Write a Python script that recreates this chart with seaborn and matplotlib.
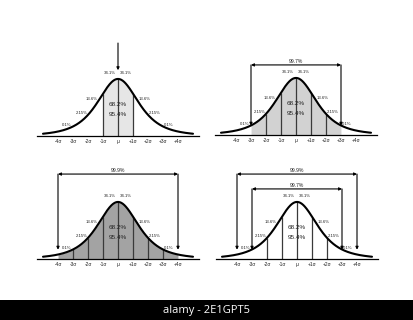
import numpy as np
import matplotlib
matplotlib.use("Agg")
import matplotlib.pyplot as plt
from matplotlib.patches import Rectangle
import seaborn as sns
import pandas as pd

sns.set_theme(style="white")
plt.rcParams['font.family'] = ['Liberation Sans', 'DejaVu Sans']

# ---- data ----
# bell curve as drawn in the illustration (peak height and width in sigma units)
bell_peak = 0.399
bell_width = 1.44
bell_tail = 3.0
sigma_ticks = [-4, -3, -2, -1, 0, 1, 2, 3, 4]
tick_labels = ["-4σ", "-3σ", "-2σ", "-1σ", "μ", "+1σ", "+2σ", "+3σ", "+4σ"]
band_labels = ["34.1%", "13.6%", "2.15%", "0.1%"]
band_label_x = [0.55, 1.75, 2.45, 3.4]
band_label_y = [0.44, 0.26, 0.16, 0.077]
center_labels = ["68.2%", "95.4%"]
center_label_y = [0.22, 0.147]
range_labels = ["99.7%", "99.9%"]
range_halfwidth = [3, 4]
range_level = [0.49, 0.594]

W, H = 413, 320
SIG_PX = 15.0
Y_PX = 143.0
XL = (-5.4, 5.4)
YL = (-0.12, 0.72)


def bell(x):
    x = np.asarray(x, dtype=float)
    return bell_peak * (1 + x ** 2 / (bell_tail * bell_width ** 2)) ** (-(bell_tail + 1) / 2)


xs = np.linspace(-5, 5, 400)
curve = pd.DataFrame({"x": xs, "y": bell(xs)})

fig = plt.figure(figsize=(W / 100, H / 100), dpi=100)
fig.patch.set_facecolor("white")


def make_axes(cx, by):
    left = (cx + XL[0] * SIG_PX) / W
    width = (XL[1] - XL[0]) * SIG_PX / W
    bottom = (H - (by - YL[0] * Y_PX)) / H
    height = (YL[1] - YL[0]) * Y_PX / H
    ax = fig.add_axes([left, bottom, width, height])
    ax.set_xlim(*XL)
    ax.set_ylim(*YL)
    ax.patch.set_alpha(0)
    for s in ["top", "right", "left"]:
        ax.spines[s].set_visible(False)
    ax.spines["bottom"].set_position(("data", 0))
    ax.spines["bottom"].set_color("black")
    ax.spines["bottom"].set_linewidth(0.9)
    ax.set_yticks([])
    ax.set_xticks(sigma_ticks)
    ax.set_xticklabels(tick_labels)
    ax.tick_params(axis="x", length=0, pad=2.5, labelsize=3.5, colors="#222222")
    return ax


def draw_common(ax, fill_range=None, fill_color=None, verticals=()):
    if fill_range is not None:
        m = (xs >= fill_range[0]) & (xs <= fill_range[1])
        ax.fill_between(xs[m], 0, bell(xs[m]), color=fill_color, lw=0, zorder=1)
    if len(verticals):
        v = np.array(verticals, dtype=float)
        ax.vlines(v, 0, bell(v), color="#3a3a3a", lw=0.9, zorder=2)
    sns.lineplot(data=curve, x="x", y="y", ax=ax, color="black", lw=1.5, zorder=3)
    ax.set_xlabel("")
    ax.set_ylabel("")
    for lab, bx, byy in zip(band_labels, band_label_x, band_label_y):
        ax.text(-bx, byy, lab, ha="center", va="center", fontsize=3.1, color="#222222", zorder=4)
        ax.text(bx, byy, lab, ha="center", va="center", fontsize=3.1, color="#222222", zorder=4)
    for lab, cy in zip(center_labels, center_label_y):
        ax.text(0, cy, lab, ha="center", va="center", fontsize=4.6, color="#222222", zorder=4)


def draw_range(ax, idx, level, tip=0.065):
    h = range_halfwidth[idx]
    ax.annotate("", xy=(-h, level), xytext=(h, level),
                arrowprops=dict(arrowstyle="<|-|>", color="black", lw=0.8,
                                mutation_scale=4, shrinkA=0, shrinkB=0))
    for sx in (-h, h):
        ax.annotate("", xy=(sx, tip), xytext=(sx, level),
                    arrowprops=dict(arrowstyle="-|>", color="black", lw=0.8,
                                    mutation_scale=4, shrinkA=0, shrinkB=0))
    ax.text(0, level + 0.025, range_labels[idx], ha="center", va="center",
            fontsize=3.6, color="#222222")


# Panel 1 (top-left)
ax1 = make_axes(118, 136)
draw_common(ax1, (-1, 1), "#e6e6e6", [-1, 0, 1])
ax1.annotate("", xy=(0, 0.46), xytext=(0, 0.65),
             arrowprops=dict(arrowstyle="-|>", color="black", lw=0.8,
                             mutation_scale=4, shrinkA=0, shrinkB=0))

# Panel 2 (top-right)
ax2 = make_axes(296, 135)
draw_common(ax2, (-3, 3), "#d2d2d2", [-2, -1, 0, 1, 2])
draw_range(ax2, 0, range_level[0])

# Panel 3 (bottom-left)
ax3 = make_axes(118, 259)
draw_common(ax3, (-4, 4), "#a3a3a3", [-3, -2, -1, 0, 1, 2, 3])
draw_range(ax3, 1, range_level[1])

# Panel 4 (bottom-right)
ax4 = make_axes(297, 259)
draw_common(ax4, None, None, [-2, -1, 0, 1, 2])
draw_range(ax4, 1, range_level[1])
draw_range(ax4, 0, range_level[0])

# bottom watermark bar
fig.patches.append(Rectangle((0, 0), 1, 20 / H, transform=fig.transFigure,
                             facecolor="black", edgecolor="none", zorder=0))
fig.text(0.5, 10 / H, "alamy - 2E1GPT5", color="white", fontsize=8,
         ha="center", va="center", family=["Open Sans", "DejaVu Sans"])

fig.savefig("out.png", dpi=100, facecolor="white")
